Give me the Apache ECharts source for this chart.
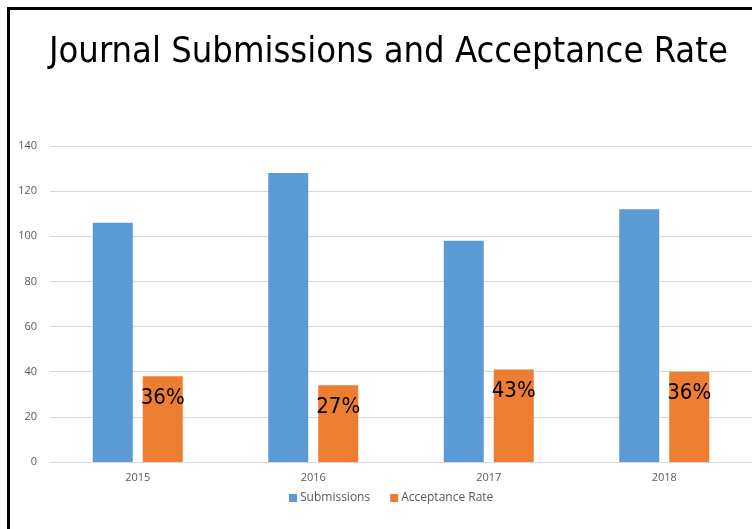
<!DOCTYPE html>
<html>
<head>
<meta charset="utf-8">
<script src="https://cdn.jsdelivr.net/npm/echarts@6/dist/echarts.min.js"></script>
<style>
html, body { margin: 0; padding: 0; background: #fff; }
#wrap { position: relative; width: 752px; height: 529px; overflow: hidden; }
#frame { position: absolute; left: 7px; top: 7px; width: 800px; height: 600px;
         border-left: 3px solid #000; border-top: 3px solid #000; box-sizing: border-box; pointer-events: none; }
#chart { position: absolute; left: 0; top: 0; width: 752px; height: 529px; }
</style>
</head>
<body>
<div id="wrap">
<div id="chart"></div>
<div id="frame"></div>
</div>
<script>
var years = ['2015', '2016', '2017', '2018'];
var submissions = [106, 128, 98, 112];
var acceptance = [38, 34, 41, 40];
var rateLabels = ['36%', '27%', '43%', '36%'];

var chart = echarts.init(document.getElementById('chart'));
var axisFont = 'Open Sans';

var option = {
    animation: false,
    title: {
        text: 'Journal Submissions and Acceptance Rate',
        left: 44,
        top: 30,
        textStyle: {
            fontFamily: 'DejaVu Sans Condensed',
            fontWeight: 'normal',
            fontSize: 36,
            color: '#000'
        }
    },
    legend: {
        bottom: 20,
        left: 284,
        itemWidth: 8,
        itemHeight: 8,
        itemGap: 20,
        icon: 'rect',
        textStyle: { fontFamily: axisFont, fontSize: 12, color: '#595959', padding: [0, 0, 0, -2] },
        data: ['Submissions', 'Acceptance Rate']
    },
    grid: { left: 50, right: -1, top: 146, bottom: 67 },
    xAxis: {
        type: 'category',
        data: years,
        axisLine: { lineStyle: { color: '#d9d9d9' } },
        axisTick: { show: false },
        axisLabel: { fontFamily: axisFont, fontSize: 11, color: '#595959', margin: 10 }
    },
    yAxis: {
        type: 'value',
        min: 0,
        max: 140,
        interval: 20,
        splitLine: { lineStyle: { color: '#d9d9d9' } },
        axisLabel: { fontFamily: axisFont, fontSize: 11, color: '#595959', margin: 13 }
    },
    series: [
        {
            name: 'Submissions',
            type: 'bar',
            barWidth: 40,
            barGap: '25%',
            itemStyle: { color: '#5b9bd5' },
            data: submissions
        },
        {
            name: 'Acceptance Rate',
            type: 'bar',
            barWidth: 40,
            itemStyle: { color: '#ed7d31' },
            label: {
                show: true,
                position: 'insideTop',
                distance: 11,
                fontFamily: 'DejaVu Sans Condensed',
                fontSize: 22,
                color: '#000',
                formatter: function (p) { return rateLabels[p.dataIndex]; }
            },
            data: acceptance
        }
    ]
};
chart.setOption(option);
</script>
</body>
</html>
